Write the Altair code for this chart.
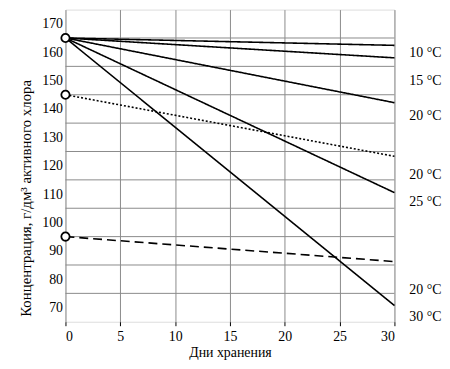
import altair as alt
import pandas as pd

# data
days = [0, 30]
series_ids = ["s10", "s15", "s20a", "s20b", "s25", "s20c", "s30"]
start_vals = [165, 165, 165, 145, 165, 95, 165]
end_vals = [162.4, 158.0, 142.2, 123.3, 110.5, 86.2, 70.7]
styles = ["solid", "solid", "solid", "dotted", "solid", "dashed", "solid"]
label_texts = ["10 °C", "15 °C", "20 °C", "20 °C", "25 °C", "20 °C", "30 °C"]
label_vals = [159.8, 149.8, 137.6, 116.6, 107.2, 76.2, 66.6]
start_points = [165, 145, 95]
x_ticks = [0, 5, 10, 15, 20, 25, 30]
y_ticks = [70, 80, 90, 100, 110, 120, 130, 140, 150, 160, 170]
h_grid = [75, 85, 95, 105, 115, 125, 135, 145, 155, 165]

rows = []
for sid, s, e, st in zip(series_ids, start_vals, end_vals, styles):
    rows.append({"id": sid, "day": days[0], "c": s, "style": st})
    rows.append({"id": sid, "day": days[1], "c": e, "style": st})
lines_df = pd.DataFrame(rows)
labels_df = pd.DataFrame({"day": [30] * len(label_texts), "c": label_vals, "t": label_texts})
pts_df = pd.DataFrame({"day": [0] * len(start_points), "c": start_points})
grid_df = pd.DataFrame({"c": h_grid})

FONT = "Liberation Serif"
xscale = alt.Scale(domain=[0, 30], nice=False, zero=False)
yscale = alt.Scale(domain=[65, 175], nice=False, zero=False)

xaxis = alt.Axis(values=x_ticks, title="Дни хранения", grid=True, gridColor="#8a8a8a",
                 gridWidth=1, domain=False, tickColor="black", tickSize=4,
                 labelFont=FONT, labelFontSize=14, labelColor="black", labelOverlap=False,
                 labelPadding=4, titlePadding=2,
                 titleFont=FONT, titleFontSize=14, titleFontWeight="normal", titleColor="black")
yaxis = alt.Axis(values=y_ticks, grid=False, domain=False, ticks=False,
                 title="Концентрация, г/дм³ активного хлора",
                 labelFont=FONT, labelFontSize=14, labelColor="black", labelOverlap=False,
                 labelPadding=3,
                 titleFont=FONT, titleFontSize=15, titleFontWeight="normal", titleColor="black",
                 titleX=-40, titleY=190, titleAngle=270,
                 titleAlign="center", titleBaseline="middle")

X = alt.X("day:Q", scale=xscale, axis=xaxis)
Y = alt.Y("c:Q", scale=yscale, axis=yaxis)

grid = alt.Chart(grid_df).mark_rule(color="#8a8a8a", strokeWidth=1).encode(y=Y)

lines = alt.Chart(lines_df).mark_line(color="black", strokeWidth=1.6).encode(
    x=X, y=Y,
    detail="id:N",
    strokeDash=alt.StrokeDash("style:N", scale=alt.Scale(
        domain=["solid", "dotted", "dashed"], range=[[1, 0], [2, 2], [9, 5]]), legend=None),
)

pts = alt.Chart(pts_df).mark_point(shape="circle", filled=True, fill="white",
                                   stroke="black", strokeWidth=1.8, size=70, opacity=1).encode(
    x=X, y=Y,
)

labels = alt.Chart(labels_df).mark_text(align="left", baseline="middle", dx=15,
                                        font=FONT, fontSize=14, color="black").encode(
    x=X, y=Y, text="t:N",
)

chart = alt.layer(grid, lines, pts, labels).properties(
    width=332, height=315,
    padding={"left": 10, "top": 0, "right": 0, "bottom": 0},
).configure_view(stroke="black", strokeWidth=1.6).configure(background="white")

chart.save("out.html", embed_options={"renderer": "svg", "actions": False})
